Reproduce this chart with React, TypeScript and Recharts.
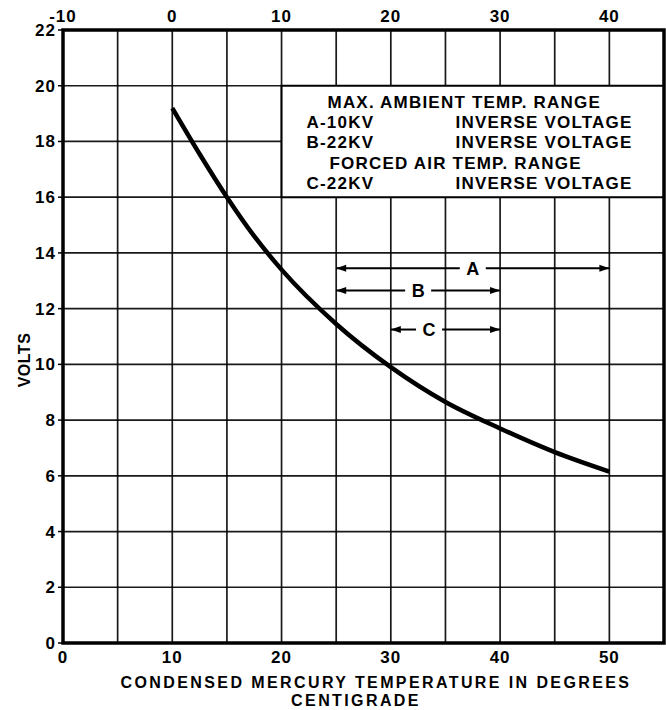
import React from "react";
import {
  LineChart,
  Line,
  XAxis,
  YAxis,
  CartesianGrid,
  ReferenceArea,
  ReferenceLine,
} from "recharts";

// curve: condensed mercury temperature (deg C) vs volts
const curveTemp = [10, 12.5, 15, 17.5, 20, 25, 30, 35, 40, 45, 50];
const curveVolts = [19.2, 17.55, 16.0, 14.6, 13.4, 11.45, 9.9, 8.65, 7.7, 6.85, 6.15];

// axis ticks
const bottomTicks = [0, 5, 10, 15, 20, 25, 30, 35, 40, 45, 50, 55];
const topTicks = [-10, 0, 10, 20, 30, 40];
const voltTicks = [0, 2, 4, 6, 8, 10, 12, 14, 16, 18, 20, 22];
const topOffset = 10; // upper scale reads 10 below the lower one

// temperature ranges drawn as arrows
const rangeNames = ["A", "B", "C"];
const rangeFrom = [25, 25, 30];
const rangeTo = [50, 40, 40];
const rangeVolts = [13.45, 12.65, 11.25];
const rangeLetterAt = [37.5, 32.5, 33.5];

// note box text
const noteLeft = ["", "A-10KV", "B-22KV", "", "C-22KV"];
const noteRight = ["", "INVERSE VOLTAGE", "INVERSE VOLTAGE", "", "INVERSE VOLTAGE"];
const noteHeads = ["MAX. AMBIENT TEMP. RANGE", "", "", "FORCED AIR TEMP. RANGE", ""];

const data = curveTemp.map((t, i) => ({ temp: t, volts: curveVolts[i] }));

const FONT = "'Liberation Sans', Arial, sans-serif";

const NoteLabel = (props: any) => {
  const { x, y } = props.viewBox;
  return (
    <g fontFamily={FONT} fontWeight="bold" fontSize={17} fill="#000" letterSpacing={1.2}>
      {noteHeads.map((h, i) => (
        <text key={"h" + i} x={x + (i === 0 ? 46 : 48)} y={y + 22 + i * 20.3}>
          {h}
        </text>
      ))}
      {noteLeft.map((t, i) => (
        <text key={"l" + i} x={x + 25} y={y + 22 + i * 20.3}>
          {t}
        </text>
      ))}
      {noteRight.map((t, i) => (
        <text key={"r" + i} x={x + 174} y={y + 22 + i * 20.3}>
          {t}
        </text>
      ))}
    </g>
  );
};

const rangeShape = (i: number) => (props: any) => {
  const { x1, y1, x2 } = props;
  const lx = x1 + ((rangeLetterAt[i] - rangeFrom[i]) / (rangeTo[i] - rangeFrom[i])) * (x2 - x1);
  const gap = 13;
  return (
    <g>
      <line x1={x1} y1={y1} x2={lx - gap} y2={y1} stroke="#000" strokeWidth={2} />
      <line x1={lx + gap} y1={y1} x2={x2} y2={y1} stroke="#000" strokeWidth={2} />
      <path d={`M${x1},${y1} L${x1 + 10},${y1 - 3.5} L${x1 + 10},${y1 + 3.5} Z`} fill="#000" />
      <path d={`M${x2},${y1} L${x2 - 10},${y1 - 3.5} L${x2 - 10},${y1 + 3.5} Z`} fill="#000" />
      <text
        x={lx}
        y={y1 + 6.5}
        textAnchor="middle"
        fontFamily={FONT}
        fontWeight="bold"
        fontSize={18}
        fill="#000"
      >
        {rangeNames[i]}
      </text>
    </g>
  );
};

const tickStyle = { fontFamily: FONT, fontWeight: "bold", fontSize: 17, fill: "#000", letterSpacing: 1 };

export default function App() {
  return (
    <div style={{ position: "absolute", left: 0, top: 0, background: "#fff" }}>
      <LineChart width={666} height={710} data={data} margin={{ top: 0, right: 2, bottom: 0, left: 0 }}>
        <CartesianGrid stroke="#000" strokeWidth={1.7} strokeOpacity={0.9} />
        <XAxis
          dataKey="temp"
          type="number"
          domain={[0, 55]}
          ticks={bottomTicks}
          tickFormatter={(v: number) => (v % 10 === 0 && v <= 50 ? String(v) : "")}
          tick={tickStyle}
          tickLine={false}
          axisLine={false}
          height={67}
          interval={0}
          label={() => (
            <g fontFamily={FONT} fontWeight="bold" fontSize={16} fill="#000" letterSpacing={2.4}>
              <text x={376} y={688} textAnchor="middle">
                CONDENSED MERCURY TEMPERATURE IN DEGREES
              </text>
              <text x={356} y={706} textAnchor="middle">
                CENTIGRADE
              </text>
            </g>
          )}
        />
        <XAxis
          xAxisId="top"
          orientation="top"
          dataKey={(d: any) => d.temp - topOffset}
          type="number"
          domain={[-10, 45]}
          allowDataOverflow
          ticks={topTicks}
          tick={tickStyle}
          tickLine={false}
          axisLine={false}
          height={30}
          interval={0}
        />
        <YAxis
          type="number"
          domain={[0, 22]}
          ticks={voltTicks}
          tick={tickStyle}
          tickLine={{ stroke: "#000", strokeWidth: 1.5 }}
          tickSize={5}
          axisLine={false}
          width={63}
          interval={0}
          label={() => (
            <text
              transform="translate(30,360) rotate(-90)"
              textAnchor="middle"
              fontFamily={FONT}
              fontWeight="bold"
              fontSize={16}
              fill="#000"
              letterSpacing={0.5}
            >
              VOLTS
            </text>
          )}
        />
        <ReferenceArea
          x1={20}
          x2={55}
          y1={16}
          y2={20}
          fill="#fff"
          fillOpacity={1}
          stroke="#000"
          strokeWidth={2}
          label={NoteLabel}
        />
        {rangeNames.map((n, i) => (
          <ReferenceLine
            key={n}
            segment={[
              { x: rangeFrom[i], y: rangeVolts[i] },
              { x: rangeTo[i], y: rangeVolts[i] },
            ]}
            shape={rangeShape(i)}
          />
        ))}
        <ReferenceArea x1={0} x2={55} y1={0} y2={22} fill="none" stroke="#000" strokeWidth={3.5} />
        <Line
          dataKey="volts"
          type="monotone"
          stroke="#000"
          strokeWidth={4.5}
          dot={false}
          isAnimationActive={false}
        />
      </LineChart>
    </div>
  );
}
